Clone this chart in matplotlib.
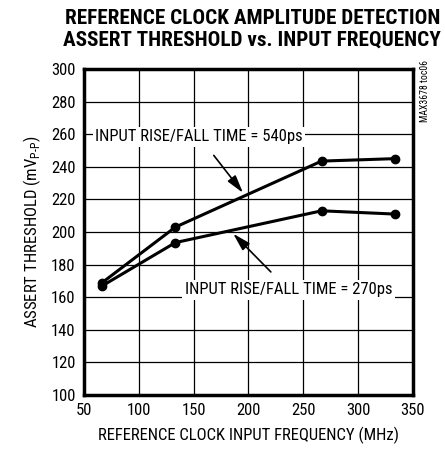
import matplotlib
matplotlib.use("Agg")
import matplotlib.pyplot as plt

plt.rcParams['font.family'] = ['Roboto Condensed', 'DejaVu Sans']
plt.rcParams['mathtext.fontset'] = 'custom'
plt.rcParams['mathtext.rm'] = 'Roboto Condensed'

freq = [66.67, 133.33, 266.67, 333.33]
thr_540 = [169, 203, 243.5, 245]
thr_270 = [167, 193.5, 213, 211]
x_ticks = [50, 100, 150, 200, 250, 300, 350]
y_ticks = [100, 120, 140, 160, 180, 200, 220, 240, 260, 280, 300]

fig = plt.figure(figsize=(4.45, 4.54), dpi=100)
ax = fig.add_axes([0.1888, 0.130, 0.7392, 0.718])

ax.set_xlim(50, 350)
ax.set_ylim(100, 300)
ax.set_xticks(x_ticks)
ax.set_yticks(y_ticks)
ax.tick_params(length=0, labelsize=12, pad=6)
ax.grid(True, color='black', linewidth=0.9)
ax.set_axisbelow(True)
for s in ax.spines.values():
    s.set_linewidth(2.5)

for ys in (thr_540, thr_270):
    ax.plot(freq, ys, color='black', linewidth=2.2, marker='o', markersize=6, zorder=3)

bbox = dict(boxstyle='square,pad=0.15', fc='white', ec='none')
arrow = dict(arrowstyle='-|>,head_length=0.9,head_width=0.25', color='black',
             lw=1.2, shrinkA=8, shrinkB=0)
ax.annotate('INPUT RISE/FALL TIME = 540ps', xy=(195, 224), xytext=(155, 258.5),
            fontsize=12, ha='center', va='center', bbox=bbox, zorder=4, arrowprops=arrow)
ax.annotate('INPUT RISE/FALL TIME = 270ps', xy=(186, 199), xytext=(236.5, 164.5),
            fontsize=12, ha='center', va='center', bbox=bbox, zorder=4, arrowprops=arrow)

ax.set_xlabel('REFERENCE CLOCK INPUT FREQUENCY (MHz)', fontsize=12, labelpad=6)
ax.set_ylabel(r'ASSERT THRESHOLD (mV$_{\text{P-P}}$)', fontsize=12, labelpad=6)

fig.text(0.567, 0.960, 'REFERENCE CLOCK AMPLITUDE DETECTION', fontsize=15.2, fontweight='heavy',
         ha='center', va='center')
fig.text(0.567, 0.911, 'ASSERT THRESHOLD vs. INPUT FREQUENCY', fontsize=15.2, fontweight='heavy',
         ha='center', va='center')
fig.text(0.955, 0.80, 'MAX3678 toc06', fontsize=7, rotation=90, ha='center', va='center')

fig.savefig('out.png', dpi=100)
